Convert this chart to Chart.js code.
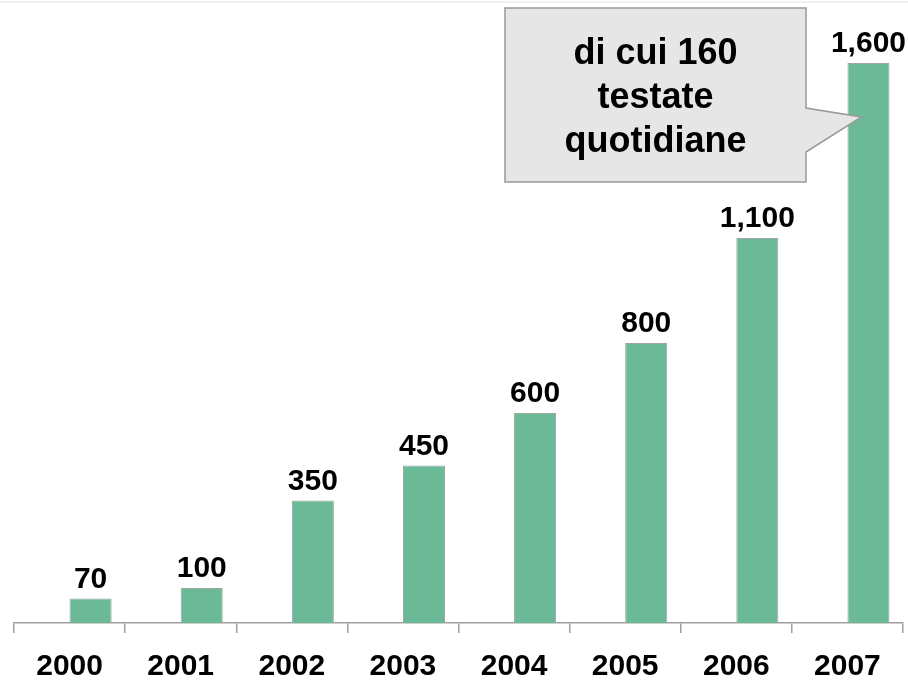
<!DOCTYPE html>
<html>
<head>
<meta charset="utf-8">
<script src="https://cdn.jsdelivr.net/npm/chart.js@4/dist/chart.umd.min.js"></script>
<style>
  html, body { margin: 0; padding: 0; background: #ffffff; }
  #wrap { width: 908px; height: 682px; position: relative; }
</style>
</head>
<body>
<div id="wrap"><canvas id="chart"></canvas></div>
<script>
// Testate online per anno
const years = ['2000', '2001', '2002', '2003', '2004', '2005', '2006', '2007'];
const testate = [70, 100, 350, 450, 600, 800, 1100, 1600];
// empty leading slot: the bars sit in the right half of each category
const spacer = [null, null, null, null, null, null, null, null];

const calloutLines = ['di cui 160', 'testate', 'quotidiane'];
const calloutValue = 1446; // where the callout pointer touches the 2007 bar

const FONT = '"Liberation Sans", Arial, Helvetica, sans-serif';
const fmt = v => v.toLocaleString('en-US');

const valueLabels = {
  id: 'valueLabels',
  afterDatasetsDraw(chart) {
    const ctx = chart.ctx;
    const meta = chart.getDatasetMeta(1);
    ctx.save();
    ctx.font = 'bold 30px ' + FONT;
    ctx.fillStyle = '#000000';
    ctx.textAlign = 'center';
    ctx.textBaseline = 'alphabetic';
    meta.data.forEach((bar, i) => {
      ctx.fillText(fmt(testate[i]), bar.x, bar.y - 11);
    });
    ctx.restore();
  }
};

const callout = {
  id: 'callout',
  afterDraw(chart) {
    const ctx = chart.ctx;
    const bar = chart.getDatasetMeta(1).data[7];
    const tipX = bar.x - bar.width / 2 + 14;
    const tipY = chart.scales.y.getPixelForValue(calloutValue);
    const L = 505, T = 8, R = 806, B = 182;
    const p1 = 108, p2 = 152;

    // faint rule along the top edge
    ctx.save();
    ctx.fillStyle = '#eef2f0';
    ctx.fillRect(0, 1, chart.width, 2);

    ctx.beginPath();
    ctx.moveTo(L, T);
    ctx.lineTo(R, T);
    ctx.lineTo(R, p1);
    ctx.lineTo(tipX, tipY);
    ctx.lineTo(R, p2);
    ctx.lineTo(R, B);
    ctx.lineTo(L, B);
    ctx.closePath();
    ctx.fillStyle = '#e6e6e6';
    ctx.fill();
    ctx.lineWidth = 1.5;
    ctx.strokeStyle = '#999999';
    ctx.stroke();

    ctx.font = 'bold 36px ' + FONT;
    ctx.fillStyle = '#000000';
    ctx.textAlign = 'center';
    ctx.textBaseline = 'alphabetic';
    const cx = (L + R) / 2;
    calloutLines.forEach((t, i) => ctx.fillText(t, cx, 64 + i * 44));
    ctx.restore();
  }
};

new Chart(document.getElementById('chart'), {
  type: 'bar',
  data: {
    labels: years,
    datasets: [
      { data: spacer, backgroundColor: 'rgba(0,0,0,0)' },
      {
        data: testate,
        backgroundColor: '#6bb996',
        borderColor: '#9aa8a0',
        borderWidth: 1
      }
    ]
  },
  options: {
    responsive: true,
    maintainAspectRatio: false,
    animation: false,
    categoryPercentage: 0.757,
    barPercentage: 1.0,
    layout: { padding: { top: 28, left: 14, right: 5, bottom: 0 } },
    plugins: {
      legend: { display: false },
      tooltip: { enabled: false }
    },
    scales: {
      x: {
        afterFit(scale) { scale.height = 59; },
        grid: {
          offset: true,
          drawOnChartArea: false,
          drawTicks: true,
          tickLength: 10,
          color: '#a0a0a0',
          lineWidth: 1.5
        },
        border: { display: true, color: '#a0a0a0', width: 1.5 },
        ticks: {
          color: '#000000',
          padding: 19,
          font: { family: FONT, size: 30, weight: 'bold', lineHeight: 1.0 }
        }
      },
      y: {
        display: false,
        min: 0,
        max: 1700
      }
    }
  },
  plugins: [valueLabels, callout]
});
</script>
</body>
</html>
